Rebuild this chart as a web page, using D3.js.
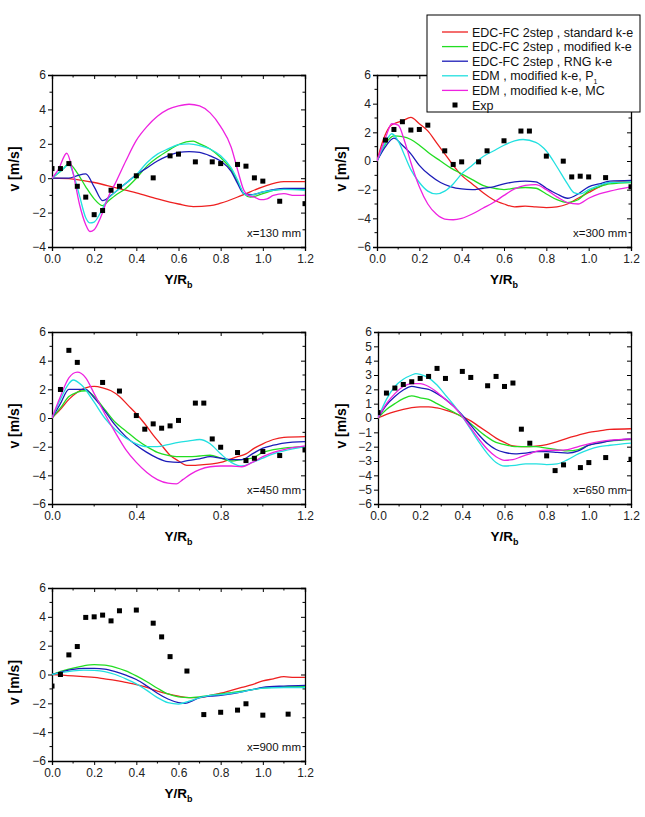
<!DOCTYPE html>
<html><head><meta charset="utf-8">
<script src="https://cdn.jsdelivr.net/npm/d3@7"></script>
<style>
body{margin:0;background:#fff}
svg{display:block}
text{font-family:Arial,"Liberation Sans",sans-serif}
</style>
</head><body>
<svg id="c" width="645" height="817"></svg>
<script>
// ---------- legend ----------
const seriesKeys = ["std", "mod", "rng", "p1", "mc"];
const seriesNames = ["EDC-FC 2step , standard k-e", "EDC-FC 2step , modified k-e", "EDC-FC 2step , RNG k-e", "EDM , modified k-e, P", "EDM , modified k-e, MC"];
const seriesColors = ["#ee2020", "#22dd22", "#1c1cb8", "#22e0e0", "#ee22e0"];
const expName = "Exp";

// ---------- x = 130 mm ----------
const x130_std = [[0,0],[0.1,-0.05],[0.2,-0.25],[0.3,-0.55],[0.4,-0.85],[0.5,-1.2],[0.6,-1.5],[0.67,-1.65],[0.75,-1.6],[0.8,-1.45],[0.9,-1.0],[1.0,-0.5],[1.1,-0.2],[1.2,-0.2]];
const x130_mod = [[0,0],[0.05,0.5],[0.08,0.85],[0.12,0.3],[0.16,-0.5],[0.2,-1.2],[0.24,-1.6],[0.27,-1.3],[0.3,-1.0],[0.35,-0.6],[0.4,0.0],[0.45,0.7],[0.5,1.2],[0.55,1.6],[0.6,1.95],[0.67,2.15],[0.7,2.0],[0.75,1.7],[0.8,1.2],[0.85,0.5],[0.88,-0.2],[0.91,-0.9],[0.94,-1.1],[1.0,-0.9],[1.05,-0.7],[1.1,-0.65],[1.2,-0.65]];
const x130_rng = [[0,0],[0.08,0.0],[0.12,0.15],[0.16,0.25],[0.2,-0.5],[0.24,-1.3],[0.28,-1.0],[0.32,-0.6],[0.36,-0.2],[0.4,0.2],[0.45,0.6],[0.5,1.0],[0.55,1.3],[0.6,1.5],[0.65,1.55],[0.7,1.5],[0.75,1.3],[0.8,1.0],[0.85,0.4],[0.88,-0.3],[0.91,-0.9],[0.95,-0.95],[1.0,-0.8],[1.1,-0.6],[1.2,-0.6]];
const x130_p1 = [[0,0],[0.05,0.5],[0.08,0.8],[0.1,0.3],[0.13,-1.0],[0.16,-2.3],[0.18,-2.6],[0.2,-2.55],[0.23,-2.0],[0.26,-1.3],[0.3,-0.8],[0.35,-0.3],[0.4,0.2],[0.45,0.9],[0.5,1.4],[0.55,1.7],[0.6,1.95],[0.65,2.0],[0.7,1.9],[0.75,1.7],[0.8,1.3],[0.85,0.6],[0.88,-0.1],[0.91,-0.9],[0.93,-1.0],[1.0,-0.8],[1.05,-0.7],[1.1,-0.65],[1.2,-0.7]];
const x130_mc = [[0,0],[0.03,0.5],[0.07,1.45],[0.1,0.3],[0.13,-1.5],[0.16,-2.7],[0.18,-3.1],[0.2,-3.0],[0.23,-2.3],[0.27,-1.0],[0.3,-0.3],[0.35,1.0],[0.4,2.2],[0.45,3.0],[0.5,3.6],[0.55,4.0],[0.6,4.2],[0.65,4.3],[0.7,4.2],[0.75,3.8],[0.8,3.0],[0.85,1.8],[0.88,0.5],[0.91,-0.7],[0.93,-1.0],[0.96,-1.1],[0.99,-1.25],[1.02,-1.2],[1.05,-1.0],[1.1,-0.9],[1.15,-1.0],[1.2,-1.0]];
const x130_exp = [[0,0.56],[0.04,0.56],[0.08,0.85],[0.12,-0.47],[0.16,-1.1],[0.2,-2.12],[0.24,-1.88],[0.28,-0.7],[0.32,-0.47],[0.4,0.14],[0.48,0.02],[0.56,1.3],[0.6,1.4],[0.68,0.95],[0.76,0.95],[0.8,0.85],[0.88,0.8],[0.92,0.7],[0.96,0.02],[1.0,-0.17],[1.08,-1.34],[1.2,-1.48]];

// ---------- x = 300 mm ----------
const x300_std = [[0,0],[0.03,1.5],[0.06,2.4],[0.08,2.6],[0.12,2.8],[0.16,3.05],[0.2,2.6],[0.24,2.1],[0.28,1.3],[0.32,0.5],[0.36,-0.3],[0.4,-1.0],[0.45,-1.6],[0.5,-2.2],[0.55,-2.7],[0.6,-3.0],[0.65,-3.2],[0.7,-3.15],[0.75,-3.2],[0.8,-3.25],[0.85,-3.2],[0.9,-3.0],[0.95,-2.6],[1.0,-2.2],[1.05,-1.8],[1.1,-1.5],[1.2,-1.4]];
const x300_mod = [[0,0],[0.04,1.2],[0.08,1.75],[0.12,1.7],[0.16,1.5],[0.2,1.1],[0.25,0.5],[0.3,0.0],[0.35,-0.5],[0.4,-0.9],[0.45,-1.3],[0.5,-1.7],[0.55,-1.9],[0.6,-2.0],[0.65,-1.9],[0.7,-1.85],[0.75,-1.9],[0.8,-2.3],[0.85,-2.7],[0.9,-2.9],[0.95,-2.7],[1.0,-2.1],[1.05,-1.8],[1.1,-1.6],[1.2,-1.5]];
const x300_rng = [[0,0],[0.04,1.0],[0.08,1.6],[0.12,1.1],[0.16,0.5],[0.2,-0.3],[0.25,-1.0],[0.3,-1.5],[0.35,-1.8],[0.4,-1.95],[0.45,-2.0],[0.5,-1.9],[0.55,-1.8],[0.6,-1.6],[0.65,-1.45],[0.7,-1.4],[0.75,-1.45],[0.8,-1.9],[0.85,-2.3],[0.9,-2.6],[0.95,-2.3],[1.0,-1.8],[1.05,-1.6],[1.1,-1.4],[1.2,-1.35]];
const x300_p1 = [[0,0],[0.04,1.3],[0.07,1.9],[0.1,1.4],[0.13,0.4],[0.16,-0.6],[0.2,-1.5],[0.24,-2.1],[0.28,-2.3],[0.32,-2.1],[0.36,-1.6],[0.4,-0.9],[0.45,-0.3],[0.5,0.3],[0.55,0.7],[0.6,1.1],[0.65,1.4],[0.69,1.5],[0.75,1.3],[0.8,0.7],[0.85,-0.4],[0.9,-1.6],[0.93,-2.2],[0.96,-2.3],[1.0,-2.0],[1.05,-1.7],[1.1,-1.5],[1.2,-1.45]];
const x300_mc = [[0,0],[0.04,1.6],[0.07,2.6],[0.1,2.5],[0.13,1.4],[0.16,-0.1],[0.2,-1.8],[0.24,-3.0],[0.28,-3.7],[0.32,-4.05],[0.36,-4.1],[0.4,-4.0],[0.45,-3.7],[0.5,-3.3],[0.55,-2.9],[0.6,-2.4],[0.65,-1.95],[0.7,-1.7],[0.75,-1.65],[0.8,-2.0],[0.85,-2.5],[0.9,-2.9],[0.95,-3.0],[1.0,-2.6],[1.05,-2.3],[1.1,-2.1],[1.2,-1.8]];
const x300_exp = [[0.04,1.46],[0.08,2.2],[0.12,2.74],[0.16,2.16],[0.2,2.2],[0.24,2.5],[0.32,0.71],[0.36,-0.24],[0.4,-0.06],[0.48,-0.06],[0.52,0.71],[0.6,1.41],[0.68,2.09],[0.72,2.09],[0.8,0.34],[0.88,-0.01],[0.92,-1.11],[0.96,-1.06],[1.0,-1.11],[1.08,-1.16],[1.2,-1.8]];

// ---------- x = 450 mm ----------
const x450_std = [[0,0],[0.04,0.6],[0.08,1.3],[0.12,1.8],[0.16,2.1],[0.2,2.2],[0.24,2.1],[0.28,1.9],[0.32,1.5],[0.36,0.9],[0.4,0.3],[0.44,-0.4],[0.48,-1.2],[0.52,-1.9],[0.56,-2.6],[0.6,-3.0],[0.64,-3.3],[0.68,-3.3],[0.72,-3.25],[0.76,-3.2],[0.8,-3.1],[0.84,-2.9],[0.88,-2.7],[0.92,-2.5],[0.96,-2.1],[1.0,-1.8],[1.05,-1.5],[1.1,-1.35],[1.2,-1.3]];
const x450_mod = [[0,0],[0.04,0.7],[0.08,1.5],[0.12,1.8],[0.16,1.9],[0.2,1.5],[0.25,0.6],[0.3,-0.3],[0.35,-0.9],[0.4,-1.5],[0.45,-2.0],[0.5,-2.4],[0.55,-2.6],[0.6,-2.7],[0.65,-2.7],[0.7,-2.65],[0.75,-2.6],[0.8,-2.8],[0.85,-3.0],[0.9,-2.9],[0.95,-2.8],[1.0,-2.4],[1.05,-2.2],[1.1,-2.1],[1.2,-2.0]];
const x450_rng = [[0,0],[0.04,1.0],[0.08,2.0],[0.12,2.0],[0.16,2.0],[0.2,1.4],[0.25,0.5],[0.3,-0.5],[0.35,-1.3],[0.4,-1.9],[0.45,-2.4],[0.5,-2.8],[0.55,-3.05],[0.6,-3.1],[0.65,-2.95],[0.7,-2.85],[0.75,-2.7],[0.8,-2.8],[0.85,-2.9],[0.9,-2.9],[0.95,-2.5],[1.0,-2.1],[1.05,-1.9],[1.1,-1.75],[1.2,-1.65]];
const x450_p1 = [[0,0],[0.04,1.3],[0.08,2.4],[0.1,2.65],[0.14,2.3],[0.2,1.1],[0.25,0.0],[0.3,-0.8],[0.35,-1.4],[0.4,-1.8],[0.45,-2.0],[0.5,-2.0],[0.55,-1.85],[0.6,-1.7],[0.65,-1.6],[0.7,-1.5],[0.75,-1.8],[0.8,-2.5],[0.85,-3.1],[0.88,-3.3],[0.9,-3.35],[0.95,-3.1],[1.0,-2.8],[1.05,-2.5],[1.1,-2.3],[1.2,-2.0]];
const x450_mc = [[0,0],[0.04,1.5],[0.08,2.8],[0.12,3.2],[0.16,2.8],[0.2,1.7],[0.25,0.3],[0.3,-1.0],[0.35,-2.2],[0.4,-3.1],[0.45,-3.8],[0.5,-4.3],[0.55,-4.55],[0.59,-4.6],[0.62,-4.3],[0.66,-3.9],[0.7,-3.6],[0.75,-3.4],[0.8,-3.35],[0.85,-3.35],[0.9,-3.4],[0.95,-3.1],[1.0,-2.7],[1.05,-2.4],[1.1,-2.2],[1.2,-1.95]];
const x450_exp = [[0.04,1.99],[0.08,4.72],[0.12,3.88],[0.24,2.48],[0.32,1.88],[0.4,0.17],[0.44,-0.78],[0.48,-0.41],[0.52,-0.71],[0.56,-0.55],[0.6,-0.17],[0.68,1.04],[0.72,1.04],[0.76,-1.46],[0.8,-2.04],[0.88,-2.41],[0.92,-2.97],[0.96,-2.81],[1.0,-2.34],[1.08,-2.62],[1.2,-2.23]];

// ---------- x = 650 mm ----------
const x650_std = [[0,0],[0.04,0.25],[0.08,0.45],[0.12,0.6],[0.16,0.72],[0.2,0.78],[0.24,0.78],[0.28,0.7],[0.32,0.55],[0.36,0.35],[0.4,0.1],[0.44,-0.2],[0.48,-0.6],[0.52,-1.0],[0.56,-1.4],[0.6,-1.7],[0.64,-1.95],[0.68,-2.0],[0.72,-2.0],[0.76,-1.95],[0.8,-1.85],[0.85,-1.65],[0.9,-1.4],[0.95,-1.2],[1.0,-1.0],[1.05,-0.9],[1.1,-0.8],[1.2,-0.75]];
const x650_mod = [[0,0],[0.04,0.6],[0.08,1.0],[0.12,1.35],[0.16,1.55],[0.2,1.4],[0.24,1.3],[0.28,1.0],[0.32,0.7],[0.36,0.4],[0.4,0.05],[0.44,-0.4],[0.48,-0.9],[0.52,-1.35],[0.56,-1.7],[0.6,-1.85],[0.65,-2.0],[0.7,-2.0],[0.75,-2.0],[0.8,-2.1],[0.85,-2.2],[0.9,-2.3],[0.95,-2.2],[1.0,-1.9],[1.05,-1.7],[1.1,-1.6],[1.2,-1.5]];
const x650_rng = [[0,0],[0.04,0.9],[0.08,1.5],[0.12,1.95],[0.16,2.2],[0.2,2.1],[0.24,2.0],[0.28,1.7],[0.32,1.3],[0.36,0.8],[0.4,0.2],[0.44,-0.5],[0.48,-1.2],[0.52,-1.8],[0.56,-2.2],[0.6,-2.4],[0.65,-2.5],[0.7,-2.45],[0.75,-2.35],[0.8,-2.35],[0.85,-2.4],[0.9,-2.45],[0.95,-2.3],[1.0,-1.9],[1.05,-1.75],[1.1,-1.6],[1.2,-1.45]];
const x650_p1 = [[0,0],[0.04,1.3],[0.08,2.2],[0.12,2.7],[0.16,3.0],[0.18,3.1],[0.2,3.05],[0.24,2.8],[0.28,2.3],[0.32,1.6],[0.36,0.9],[0.4,0.1],[0.44,-0.8],[0.48,-1.7],[0.52,-2.5],[0.56,-3.1],[0.6,-3.35],[0.65,-3.3],[0.7,-3.2],[0.75,-3.2],[0.8,-3.25],[0.85,-3.2],[0.9,-2.9],[0.95,-2.5],[1.0,-2.2],[1.05,-2.0],[1.1,-1.9],[1.2,-1.75]];
const x650_mc = [[0,0],[0.04,1.0],[0.08,1.7],[0.12,2.2],[0.16,2.4],[0.2,2.4],[0.24,2.2],[0.28,1.8],[0.32,1.3],[0.36,0.8],[0.4,0.1],[0.44,-0.7],[0.48,-1.5],[0.52,-2.2],[0.56,-2.7],[0.6,-2.95],[0.64,-2.9],[0.68,-2.7],[0.72,-2.5],[0.76,-2.3],[0.8,-2.25],[0.85,-2.25],[0.9,-2.2],[0.95,-2.0],[1.0,-1.8],[1.05,-1.65],[1.1,-1.55],[1.2,-1.45]];
const x650_exp = [[0,0.38],[0.04,1.74],[0.08,2.09],[0.12,2.34],[0.16,2.53],[0.2,2.76],[0.24,2.9],[0.28,3.46],[0.32,2.76],[0.4,3.25],[0.44,2.83],[0.52,2.25],[0.56,2.9],[0.6,2.2],[0.64,2.44],[0.68,-0.78],[0.72,-1.76],[0.8,-2.64],[0.84,-3.67],[0.88,-3.27],[0.96,-3.46],[1.0,-3.11],[1.08,-2.76],[1.2,-2.88]];

// ---------- x = 900 mm ----------
const x900_std = [[0,0],[0.05,-0.05],[0.1,-0.1],[0.15,-0.15],[0.2,-0.2],[0.25,-0.3],[0.3,-0.4],[0.35,-0.55],[0.4,-0.7],[0.45,-0.9],[0.5,-1.15],[0.55,-1.35],[0.6,-1.5],[0.65,-1.6],[0.7,-1.6],[0.75,-1.45],[0.8,-1.3],[0.85,-1.1],[0.9,-0.9],[0.95,-0.7],[1.0,-0.45],[1.05,-0.3],[1.1,-0.15],[1.15,-0.2],[1.2,-0.2]];
const x900_mod = [[0,0],[0.05,0.25],[0.1,0.45],[0.15,0.6],[0.2,0.68],[0.25,0.65],[0.3,0.5],[0.35,0.25],[0.4,-0.1],[0.45,-0.5],[0.5,-0.95],[0.55,-1.35],[0.6,-1.55],[0.65,-1.6],[0.7,-1.55],[0.75,-1.45],[0.8,-1.35],[0.85,-1.25],[0.9,-1.15],[0.95,-1.05],[1.0,-0.95],[1.1,-0.85],[1.2,-0.85]];
const x900_rng = [[0,0],[0.05,0.2],[0.1,0.35],[0.15,0.42],[0.2,0.43],[0.25,0.38],[0.3,0.2],[0.35,-0.05],[0.4,-0.35],[0.45,-0.8],[0.5,-1.3],[0.55,-1.7],[0.6,-1.95],[0.63,-2.0],[0.67,-1.8],[0.7,-1.6],[0.75,-1.5],[0.8,-1.45],[0.85,-1.35],[0.9,-1.2],[0.95,-1.05],[1.0,-0.9],[1.1,-0.8],[1.2,-0.75]];
const x900_p1 = [[0,0],[0.05,0.15],[0.1,0.25],[0.15,0.3],[0.2,0.28],[0.25,0.2],[0.3,0.0],[0.35,-0.3],[0.4,-0.65],[0.45,-1.1],[0.5,-1.6],[0.55,-1.95],[0.6,-2.05],[0.65,-1.85],[0.7,-1.6],[0.75,-1.45],[0.8,-1.4],[0.85,-1.3],[0.9,-1.2],[0.95,-1.05],[1.0,-0.95],[1.1,-0.9],[1.2,-0.9]];
const x900_exp = [[0,-0.8],[0.04,0.0],[0.08,1.36],[0.12,1.94],[0.16,3.96],[0.2,4.0],[0.24,4.12],[0.28,3.72],[0.32,4.42],[0.4,4.47],[0.48,3.56],[0.52,2.61],[0.56,1.24],[0.64,0.24],[0.72,-2.78],[0.8,-2.62],[0.88,-2.47],[0.92,-2.03],[1.0,-2.82],[1.12,-2.75]];

// ---------- tick labels ----------
const xTicksMain = [0, 0.2, 0.4, 0.6, 0.8, 1.0, 1.2];
const xTicksCoarse = [0, 0.4, 0.8, 1.2];
const yTicks130 = [-4, -2, 0, 2, 4, 6];
const yTicksStd = [-6, -4, -2, 0, 2, 4, 6];
const yTicksUnit = [-6, -5, -4, -3, -2, -1, 0, 1, 2, 3, 4, 5, 6];
const stationLabels = ["x=130 mm", "x=300 mm", "x=450 mm", "x=650 mm", "x=900 mm"];

// ---------- panel layout ----------
const panels = [
  {label: stationLabels[0], L:52, R:305, T:75, B:247, yd:[-4,6], yt:yTicks130, ym:1, xt:xTicksMain, xm:0.1, ytx:14,
   lines:{std:x130_std, mod:x130_mod, rng:x130_rng, p1:x130_p1, mc:x130_mc}, exp:x130_exp},
  {label: stationLabels[1], L:377, R:631, T:75, B:247, yd:[-6,6], yt:yTicksStd, ym:1, xt:xTicksMain, xm:0.1, ytx:341,
   lines:{std:x300_std, mod:x300_mod, rng:x300_rng, p1:x300_p1, mc:x300_mc}, exp:x300_exp},
  {label: stationLabels[2], L:52, R:305, T:332, B:504, yd:[-6,6], yt:yTicksStd, ym:1, xt:xTicksCoarse, xm:0.2, ytx:14,
   lines:{std:x450_std, mod:x450_mod, rng:x450_rng, p1:x450_p1, mc:x450_mc}, exp:x450_exp},
  {label: stationLabels[3], L:378, R:631, T:332, B:504, yd:[-6,6], yt:yTicksUnit, ym:null, xt:xTicksMain, xm:0.1, ytx:341,
   lines:{std:x650_std, mod:x650_mod, rng:x650_rng, p1:x650_p1, mc:x650_mc}, exp:x650_exp},
  {label: stationLabels[4], L:52, R:305, T:588, B:761, yd:[-6,6], yt:yTicksStd, ym:1, xt:xTicksMain, xm:0.1, ytx:14,
   lines:{std:x900_std, mod:x900_mod, rng:x900_rng, p1:x900_p1}, exp:x900_exp}
];

const svg = d3.select("#c");
const FONT = "Arial, 'Liberation Sans', sans-serif";
const range = (a, b, s) => { const r = []; for (let v = a; v <= b + 1e-9; v += s) r.push(+v.toFixed(6)); return r; };

panels.forEach((p, i) => {
  const x = d3.scaleLinear().domain([0, 1.2]).range([p.L, p.R]);
  const y = d3.scaleLinear().domain(p.yd).range([p.B, p.T]);
  const g = svg.append("g");
  const cid = "clip" + i;
  svg.append("defs").append("clipPath").attr("id", cid)
    .append("rect").attr("x", p.L).attr("y", p.T).attr("width", p.R - p.L).attr("height", p.B - p.T);

  const major = p.xt, minorX = range(0, 1.2, p.xm).filter(v => !major.some(m => Math.abs(m - v) < 1e-6));
  const minorY = p.ym ? range(p.yd[0], p.yd[1], p.ym).filter(v => !p.yt.includes(v)) : [];

  const bottom = g.append("g").attr("transform", `translate(0,${p.B})`)
    .call(d3.axisBottom(x).tickValues(major).tickSize(4).tickPadding(3).tickFormat(d3.format(".1f")));
  bottom.selectAll(".minor").data(minorX).enter().append("line").attr("class","minor")
    .attr("x1", d => x(d)).attr("x2", d => x(d)).attr("y1", 0).attr("y2", 2.5).attr("stroke", "#000");
  const top = g.append("g").attr("transform", `translate(0,${p.T})`)
    .call(d3.axisBottom(x).tickValues(major).tickSize(4).tickFormat(""));
  top.selectAll(".minor").data(minorX).enter().append("line").attr("class","minor")
    .attr("x1", d => x(d)).attr("x2", d => x(d)).attr("y1", 0).attr("y2", 2.5).attr("stroke", "#000");
  const left = g.append("g").attr("transform", `translate(${p.L},0)`)
    .call(d3.axisLeft(y).tickValues(p.yt).tickSize(4).tickPadding(2).tickFormat(d3.format("d")));
  left.selectAll(".minor").data(minorY).enter().append("line").attr("class","minor")
    .attr("x1", 0).attr("x2", -2.5).attr("y1", d => y(d)).attr("y2", d => y(d)).attr("stroke", "#000");
  const right = g.append("g").attr("transform", `translate(${p.R},0)`)
    .call(d3.axisLeft(y).tickValues(p.yt).tickSize(4).tickFormat(""));
  right.selectAll(".minor").data(minorY).enter().append("line").attr("class","minor")
    .attr("x1", 0).attr("x2", -2.5).attr("y1", d => y(d)).attr("y2", d => y(d)).attr("stroke", "#000");

  g.selectAll(".domain").attr("stroke", "#000").attr("stroke-width", 1.3);
  g.selectAll(".tick line").attr("stroke", "#000");
  g.selectAll(".tick text").attr("font-family", FONT).attr("font-size", 12).attr("fill", "#222");

  const line = d3.line().x(d => x(d[0])).y(d => y(d[1])).curve(d3.curveMonotoneX);
  const lg = svg.append("g").attr("clip-path", `url(#${cid})`);
  seriesKeys.forEach((k, si) => {
    if (!p.lines[k]) return;
    lg.append("path").datum(p.lines[k]).attr("d", line)
      .attr("fill", "none").attr("stroke", seriesColors[si]).attr("stroke-width", 1.3);
  });
  lg.selectAll("rect.exp").data(p.exp).enter().append("rect").attr("class", "exp")
    .attr("x", d => x(d[0]) - 2.5).attr("y", d => y(d[1]) - 2.5)
    .attr("width", 5).attr("height", 5).attr("fill", "#000");

  svg.append("text").attr("x", p.R - 4).attr("y", p.B - 10).attr("text-anchor", "end")
    .attr("font-family", FONT).attr("font-size", 11.5).attr("fill", "#111").text(p.label);

  const cy = (p.T + p.B) / 2 + 8;
  svg.append("text").attr("transform", `translate(${p.ytx + 5},${cy}) rotate(-90)`)
    .attr("text-anchor", "middle").attr("font-family", FONT).attr("font-weight", "bold")
    .attr("font-size", 14).text("v [m/s]");

  const xt = svg.append("text").attr("x", (p.L + p.R) / 2).attr("y", p.B + 37)
    .attr("text-anchor", "middle").attr("font-family", FONT).attr("font-weight", "bold").attr("font-size", 13.5);
  xt.append("tspan").text("Y/R");
  xt.append("tspan").attr("dy", 4).attr("font-size", 9).text("b");
});

// legend
const lgX = 427, lgY = 15, lgW = 213, lgH = 97;
const leg = svg.append("g");
leg.append("rect").attr("x", lgX).attr("y", lgY).attr("width", lgW).attr("height", lgH)
  .attr("fill", "#fff").attr("stroke", "#000").attr("stroke-width", 1);
const rowY = i => 32 + i * 14.6;
seriesNames.forEach((n, i) => {
  leg.append("line").attr("x1", 442).attr("x2", 468).attr("y1", rowY(i)).attr("y2", rowY(i))
    .attr("stroke", seriesColors[i]).attr("stroke-width", 1.3);
  const t = leg.append("text").attr("x", 472).attr("y", rowY(i) + 4.5).attr("font-family", FONT)
    .attr("font-size", 12.5).attr("fill", "#111");
  t.append("tspan").text(n);
  if (seriesKeys[i] === "p1") t.append("tspan").attr("dy", 4).attr("font-size", 7).text("1");
});
leg.append("rect").attr("x", 452.5).attr("y", rowY(5) - 2.5).attr("width", 5).attr("height", 5).attr("fill", "#000");
leg.append("text").attr("x", 472).attr("y", rowY(5) + 4.5).attr("font-family", FONT)
  .attr("font-size", 12.5).attr("fill", "#111").text(expName);
</script>
</body></html>
